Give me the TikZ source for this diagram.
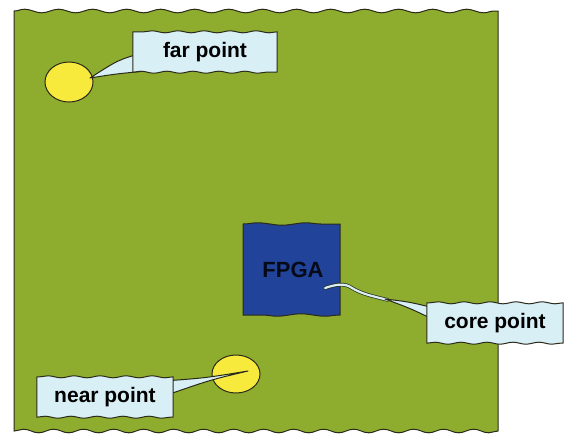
\documentclass[tikz,border=0pt]{standalone}
\usepackage{fontspec}
\setmainfont{Liberation Sans}
\usetikzlibrary{decorations.pathmorphing,calc}
\definecolor{board}{HTML}{8EAD2E}
\definecolor{chip}{HTML}{22439A}
\definecolor{dot}{HTML}{F8EA3C}
\definecolor{callfill}{HTML}{D8EFF6}
\definecolor{outline}{HTML}{2A2A1A}
\tikzset{
  boxarea/.style={minimum height=40pt,inner sep=0pt},
  boxline/.style={draw=outline,fill=callfill,line width=1pt,line join=round},
  label/.style={font=\bfseries\fontsize{21}{23}\selectfont},
  wedge/.style={draw=outline,fill=callfill,line width=1pt,line join=round}
}
\newcommand{\wavybox}[1]{%
  \draw[boxline] (#1.south west)
    decorate[decoration={snake,amplitude=1pt,segment length=26pt}]{-- ($(#1.south east)+(-1,0)$)}
    -- (#1.south east) -- ($(#1.north east)+(0,1)$) -- (#1.north east)
    decorate[decoration={snake,amplitude=1pt,segment length=26pt}]{-- ($(#1.north west)+(1,0)$)}
    -- (#1.north west) -- cycle;}
\begin{document}
\begin{tikzpicture}[x=1pt,y=-1pt]
\useasboundingbox (0,0) rectangle (566,440);
% board
\draw[fill=board,draw=outline,line width=1pt]
  (14,11) decorate[decoration={snake,amplitude=1.8pt,segment length=34pt}]{-- (498,11)}
  -- (498,431)
  decorate[decoration={snake,amplitude=1.8pt,segment length=30pt}]{-- (14,431)} -- cycle;
% FPGA chip
\draw[fill=chip,draw=outline,line width=1pt]
  (243,224) decorate[decoration={snake,amplitude=1.2pt,segment length=48pt}]{-- (340,224)}
  -- (340,315)
  decorate[decoration={snake,amplitude=1.2pt,segment length=48pt}]{-- (243,315)} -- cycle;
\node[font=\bfseries\fontsize{22}{24}\selectfont,text=black!85!chip] (fpga) at (293,270) {FPGA};
% points
\draw[draw=outline,fill=dot,line width=1pt] (69,82) ellipse [x radius=24pt,y radius=20pt];
\coordinate (fartip) at (90,78);
\draw[draw=outline,fill=dot,line width=1pt] (236,374) ellipse [x radius=24pt,y radius=19pt];
\coordinate (neartip) at (248,371);
\coordinate (coretip) at (325,288);
% far callout
\node[boxarea,minimum width=144pt] (farbox) at (205,52) {};
\coordinate (farA) at (142,53);
\coordinate (farB) at (146,71);
\draw[wedge] (farA) .. controls (118,60) .. (fartip) .. controls (115,74) .. (farB);
\wavybox{farbox}
\node[label] (far) at (farbox) {far point};
% near callout
\node[boxarea,minimum width=136pt] (nearbox) at (105,397) {};
\coordinate (nearA) at (164,381);
\coordinate (nearB) at (164,396);
\draw[wedge] (nearA) .. controls (205,378) .. (neartip) .. controls (210,380) .. (nearB);
\wavybox{nearbox}
\node[label] (near) at (nearbox) {near point};
% core callout
\node[boxarea,minimum width=136pt] (corebox) at (495,323) {};
\draw[draw=outline,double=callfill,double distance=2.2pt,line width=0.7pt,line cap=round]
  (coretip) .. controls (337,284) and (345,283) .. (352,288) .. controls (362,294) and (372,296) .. (388,300);
\coordinate (coreA) at (438,309);
\coordinate (coreB) at (442,324);
\draw[wedge] (coreA) .. controls (410,302) .. (385,299) .. controls (412,309) .. (coreB);
\wavybox{corebox}
\node[label] (core) at (corebox) {core point};
\end{tikzpicture}
\end{document}
